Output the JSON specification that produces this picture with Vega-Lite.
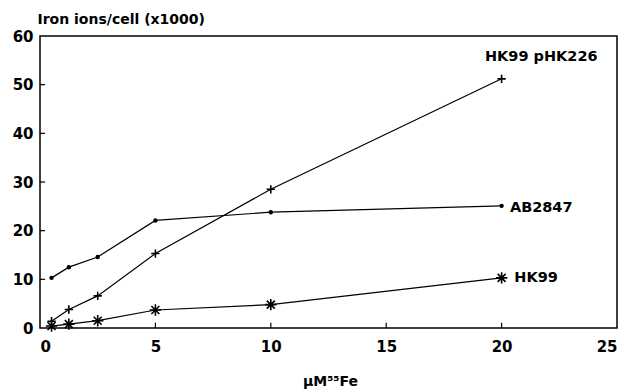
{
  "$schema": "https://vega.github.io/schema/vega-lite/v6.json",
  "width": 577,
  "height": 292,
  "autosize": {"type": "none"},
  "padding": {"left": 40, "top": 36, "right": 10, "bottom": 61},
  "background": "white",
  "config": {
    "view": {"stroke": "black", "strokeWidth": 1.5},
    "font": "DejaVu Sans",
    "axis": {
      "grid": false, "domain": false, "ticks": false,
      "labelFont": "DejaVu Sans", "labelFontWeight": "bold", "labelFontSize": 15, "labelColor": "black",
      "titleFont": "DejaVu Sans", "titleFontWeight": "bold", "titleFontSize": 14, "titleColor": "black"
    }
  },
  "data": {"values": [
    {"series": "AB2847", "x": 0.5, "y": 10.3},
    {"series": "AB2847", "x": 1.25, "y": 12.5},
    {"series": "AB2847", "x": 2.5, "y": 14.6},
    {"series": "AB2847", "x": 5, "y": 22.1},
    {"series": "AB2847", "x": 10, "y": 23.8},
    {"series": "AB2847", "x": 20, "y": 25.1},
    {"series": "HK99 pHK226", "x": 0.5, "y": 1.4},
    {"series": "HK99 pHK226", "x": 1.25, "y": 3.8},
    {"series": "HK99 pHK226", "x": 2.5, "y": 6.6},
    {"series": "HK99 pHK226", "x": 5, "y": 15.3},
    {"series": "HK99 pHK226", "x": 10, "y": 28.5},
    {"series": "HK99 pHK226", "x": 20, "y": 51.2},
    {"series": "HK99", "x": 0.5, "y": 0.4},
    {"series": "HK99", "x": 1.25, "y": 0.8},
    {"series": "HK99", "x": 2.5, "y": 1.5},
    {"series": "HK99", "x": 5, "y": 3.7},
    {"series": "HK99", "x": 10, "y": 4.8},
    {"series": "HK99", "x": 20, "y": 10.3}
  ]},
  "layer": [
    {
      "mark": {"type": "line", "color": "black", "strokeWidth": 1.2},
      "encoding": {
        "x": {"field": "x", "type": "quantitative", "scale": {"domain": [0, 25], "nice": false},
              "axis": {"values": [0, 5, 10, 15, 20, 25], "labelPadding": 11, "title": "µM⁵⁵Fe",
                       "titleX": 290, "titleY": 57, "titleBaseline": "alphabetic"}},
        "y": {"field": "y", "type": "quantitative", "scale": {"domain": [0, 60], "nice": false},
              "axis": {"values": [0, 10, 20, 30, 40, 50, 60], "labelPadding": 7, "title": "Iron ions/cell (x1000)",
                       "titleAngle": 0, "titleAlign": "left", "titleBaseline": "alphabetic", "titleX": -3, "titleY": -13}},
        "detail": {"field": "series"}
      }
    },
    {
      "data": {"values": [{"t": 5}, {"t": 10}, {"t": 15}, {"t": 20}]},
      "mark": {"type": "rule", "color": "black", "strokeWidth": 1.2},
      "encoding": {
        "x": {"field": "t", "type": "quantitative"},
        "y": {"datum": 0},
        "y2": {"datum": 1.1}
      }
    },
    {
      "data": {"values": [{"t": 10}, {"t": 20}, {"t": 30}, {"t": 40}, {"t": 50}]},
      "mark": {"type": "rule", "color": "black", "strokeWidth": 1.2},
      "encoding": {
        "y": {"field": "t", "type": "quantitative"},
        "x": {"datum": 0},
        "x2": {"datum": 0.22}
      }
    },
    {
      "mark": {"type": "point", "color": "black", "strokeWidth": 1.6, "opacity": 1},
      "encoding": {
        "x": {"field": "x", "type": "quantitative"},
        "y": {"field": "y", "type": "quantitative"},
        "shape": {"field": "series", "type": "nominal", "legend": null,
                  "scale": {"domain": ["AB2847", "HK99 pHK226", "HK99"],
                            "range": ["circle", "M-1,0L1,0M0,-1L0,1", "M-1,0L1,0M0,-1L0,1M-0.7,-0.7L0.7,0.7M-0.7,0.7L0.7,-0.7"]}},
        "size": {"field": "series", "type": "nominal", "legend": null,
                 "scale": {"domain": ["AB2847", "HK99 pHK226", "HK99"], "range": [8, 130, 90]}},
        "fill": {"field": "series", "type": "nominal", "legend": null,
                 "scale": {"domain": ["AB2847", "HK99 pHK226", "HK99"], "range": ["black", "transparent", "transparent"]}}
      }
    },
    {
      "data": {"values": [
        {"label": "HK99 pHK226", "lx": 19.28, "ly": 55.6},
        {"label": "AB2847", "lx": 20.36, "ly": 24.7},
        {"label": "HK99", "lx": 20.55, "ly": 10.3}
      ]},
      "mark": {"type": "text", "align": "left", "baseline": "middle", "fontWeight": "bold", "fontSize": 14.5, "color": "black", "font": "DejaVu Sans"},
      "encoding": {
        "x": {"field": "lx", "type": "quantitative"},
        "y": {"field": "ly", "type": "quantitative"},
        "text": {"field": "label"}
      }
    }
  ]
}
